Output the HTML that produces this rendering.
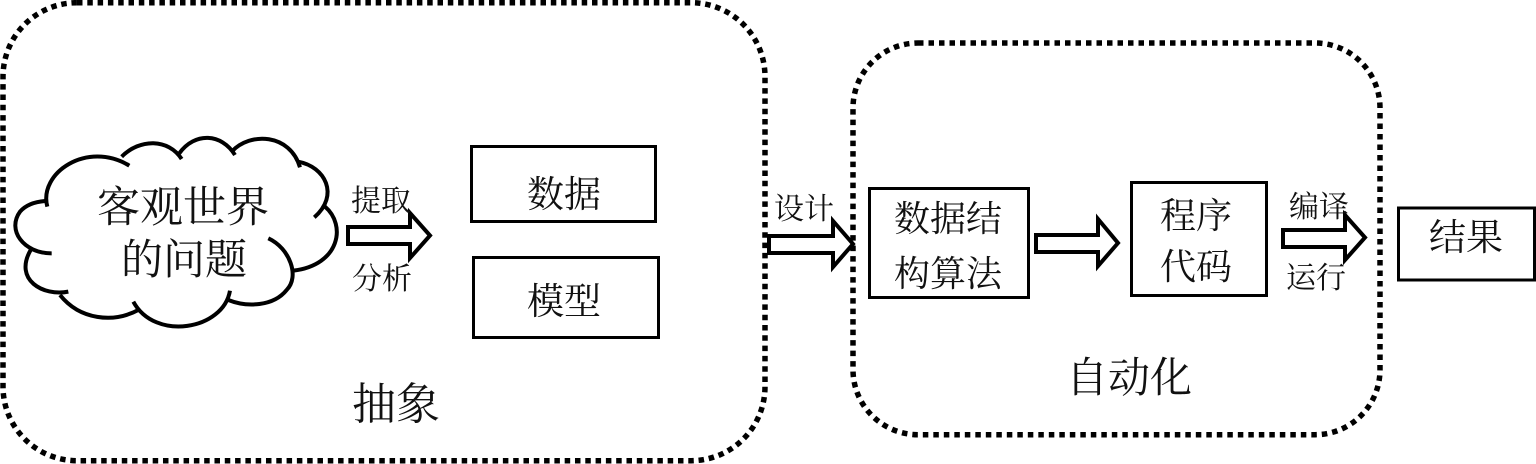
<!DOCTYPE html>
<html>
<head>
<meta charset="utf-8">
<style>
html,body{margin:0;padding:0;background:#fff;width:1536px;height:464px;overflow:hidden}
svg{display:block}
text{font-family:"Liberation Serif","Noto Serif CJK SC",serif;fill:#111;text-anchor:middle;font-weight:400}
</style>
</head>
<body>
<svg width="1536" height="464" viewBox="0 0 1536 464" xmlns="http://www.w3.org/2000/svg">
<g fill="none" stroke="#000">
  <rect x="3" y="2.700" width="762" height="458" rx="74" ry="74" stroke-width="5.500" stroke-dasharray="5.500 4.800"/>
  <rect x="853" y="43" width="527" height="391.700" rx="65" ry="65" stroke-width="5.500" stroke-dasharray="5.500 5"/>
  <g stroke-width="3">
    <rect x="471.500" y="146.500" width="184" height="75"/>
    <rect x="473.500" y="257.500" width="185" height="80"/>
    <rect x="869.500" y="188.500" width="159" height="109"/>
    <rect x="1131.500" y="182.500" width="135" height="113"/>
    <rect x="1398.500" y="208" width="136" height="72"/>
  </g>
  <g stroke-width="4">
    <path d="M348 227H410V213L430 235.500L410 258V244H348Z"/>
    <path d="M769 236H833V221L853 244L833 267V253H769Z"/>
    <path d="M1036 235H1098V219L1118 243L1098 266V252H1036Z"/>
    <path d="M1283 230H1345V215L1365 237.500L1345 260V247H1283Z"/>
  </g>
  <g transform="translate(0 100) scale(.3333)" stroke-width="12">
    <path d="M142 320C115 220 260 120 388 197"/>
    <path d="M365 170C420 115 505 115 545 177"/>
    <path d="M538 160C585 95 665 100 705 165"/>
    <path d="M695 155C750 95 870 100 900 202"/>
    <path d="M895 185C975 200 1020 285 943 352"/>
    <path d="M975 320C1040 375 1020 495 880 512"/>
    <path d="M805 415C870 445 900 530 860 570C820 620 740 622 685 600"/>
    <path d="M690 572C670 690 465 725 400 605"/>
    <path d="M415 630C340 670 240 660 180 585"/>
    <path d="M205 575C130 590 40 540 92 450"/>
    <path d="M155 460C70 460 20 390 60 335C80 312 110 305 135 303"/>
  </g>
</g>
<text x="183" y="222" font-size="43">客观世界</text>
<text x="184" y="274" font-size="42">的问题</text>
<text x="381" y="211" font-size="30">提取</text>
<text x="382" y="289" font-size="30">分析</text>
<text x="564" y="207" font-size="37">数据</text>
<text x="564" y="314" font-size="37">模型</text>
<text x="396" y="419" font-size="44">抽象</text>
<text x="804" y="219" font-size="30">设计</text>
<text x="948" y="231" font-size="36">数据结</text>
<text x="948" y="286" font-size="36">构算法</text>
<text x="1196" y="228" font-size="36">程序</text>
<text x="1196" y="279" font-size="36">代码</text>
<text x="1319" y="217" font-size="30">编译</text>
<text x="1316" y="288" font-size="30">运行</text>
<text x="1466" y="250" font-size="37">结果</text>
<text x="1129" y="392" font-size="42">自动化</text>
</svg>
</body>
</html>
